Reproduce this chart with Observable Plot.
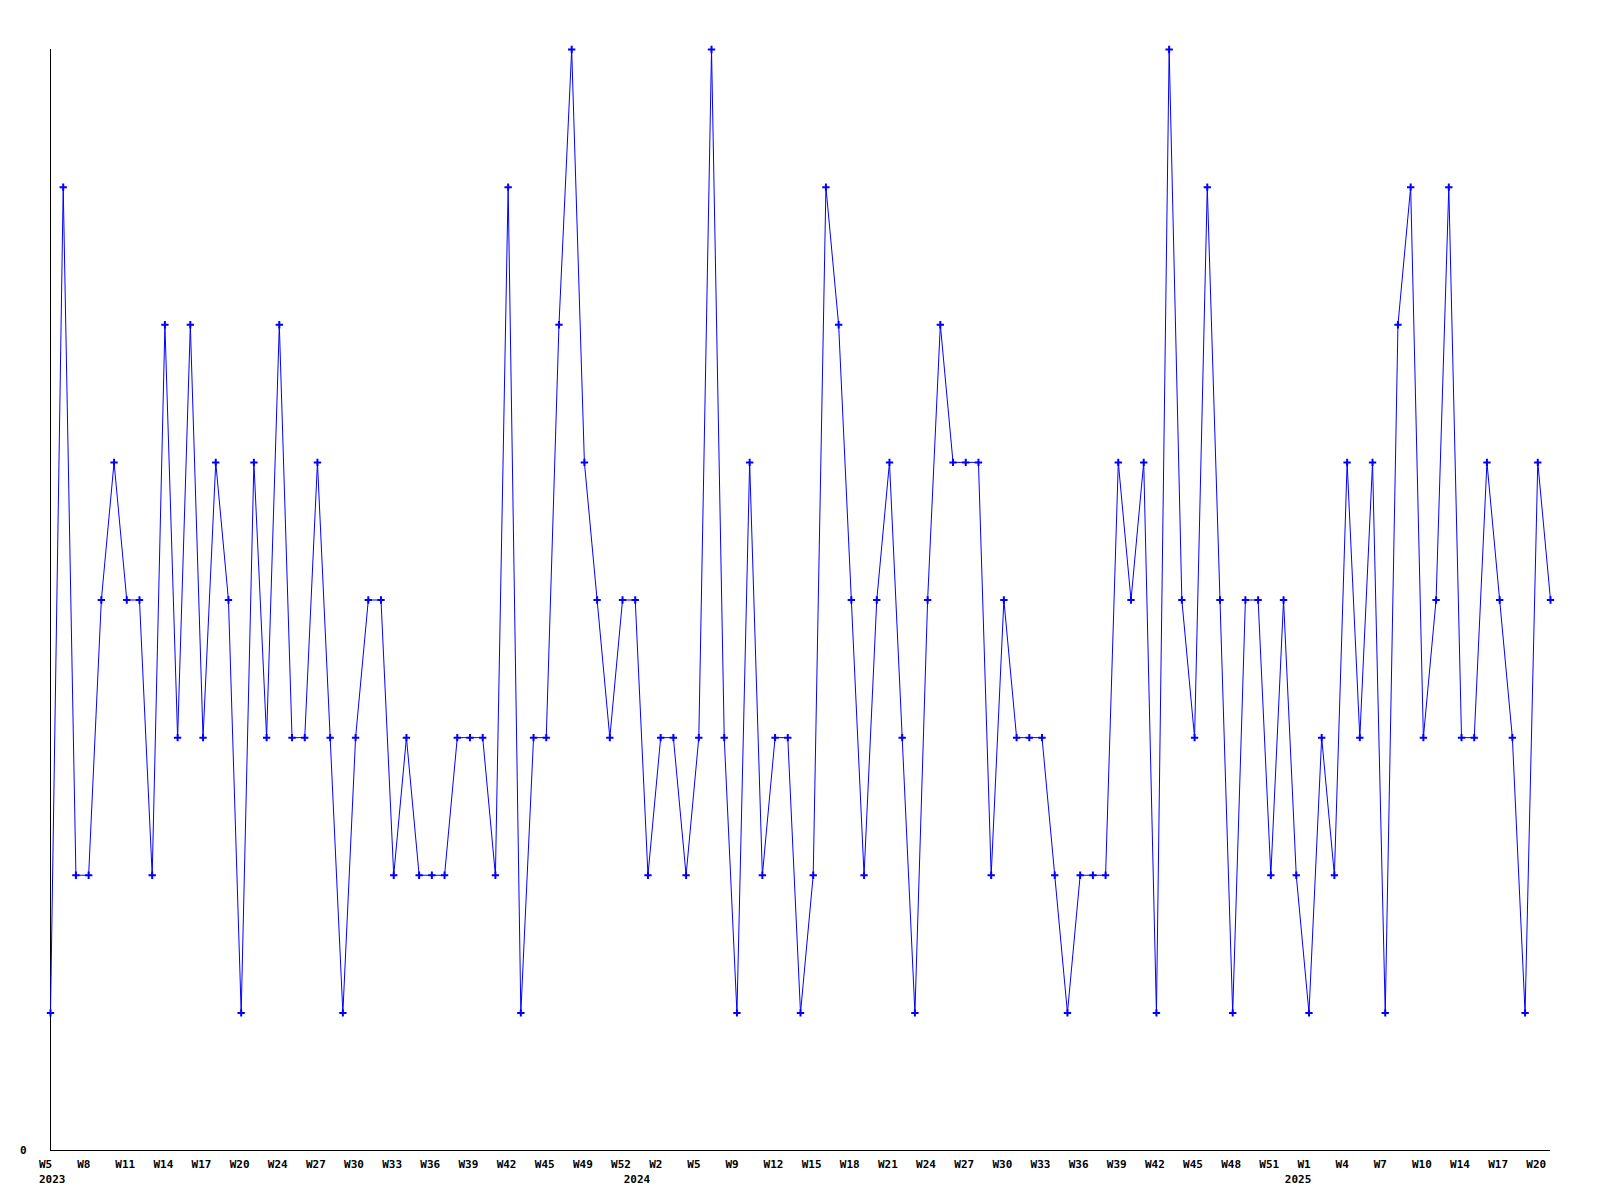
<!DOCTYPE html>
<html>
<head>
<meta charset="utf-8">
<script src="https://cdn.jsdelivr.net/npm/d3@7"></script>
<script src="https://cdn.jsdelivr.net/npm/@observablehq/plot@0.6"></script>
<style>
  html, body { margin: 0; padding: 0; background: #fff; }
</style>
</head>
<body>
<div id="chart"></div>
<script>
// Weekly values, 2023 W5 … 2025 W21 (one per week)
const values = [
  1,7,2,2,4,5,4,4,2,6,
  3,6,3,5,4,1,5,3,6,3,
  3,5,3,1,3,4,4,2,3,2,
  2,2,3,3,3,2,7,1,3,3,
  6,8,5,4,3,4,4,2,3,3,
  2,3,8,3,1,5,2,3,3,1,
  2,7,6,4,2,4,5,3,1,4,
  6,5,5,5,2,4,3,3,3,2,
  1,2,2,2,5,4,5,1,8,4,
  3,7,4,1,4,4,2,4,2,1,
  3,2,5,3,5,1,6,7,3,4,
  7,3,3,5,4,3,1,5,4
];

// Week tick labels, one every third point
const weekLabels = [
  "W5","W8","W11","W14","W17","W20","W24","W27","W30","W33",
  "W36","W39","W42","W45","W49","W52","W2","W5","W9","W12",
  "W15","W18","W21","W24","W27","W30","W33","W36","W39","W42",
  "W45","W48","W51","W1","W4","W7","W10","W14","W17","W20"
];
const weekTickIndex = weekLabels.map((_, i) => i * 3);

// Year labels and the point where each year starts
const yearLabels = ["2023", "2024", "2025"];
const yearIndex = [0, 46, 98];

// Y tick labels
const yTicks = [0];

const data = values.map((v, i) => ({ i, v }));
const years = yearLabels.map((t, k) => ({ i: yearIndex[k], t }));
const ticks = weekLabels.map((t, k) => ({ i: weekTickIndex[k], t }));

const chart = Plot.plot({
  width: 1600,
  height: 1200,
  marginLeft: 50,
  marginRight: 50,
  marginTop: 49,
  marginBottom: 50,
  style: {
    fontFamily: "'DejaVu Sans Mono', monospace",
    fontSize: "11px",
    fontWeight: "bold",
    color: "#000",
    background: "#fff"
  },
  x: { type: "linear", domain: [0, values.length - 1], axis: null },
  y: { domain: [0, 8], axis: null },
  marks: [
    Plot.ruleY([0], { stroke: "#000", strokeWidth: 1 }),
    Plot.ruleX([0], { y1: 0, y2: 8, stroke: "#000", strokeWidth: 1 }),
    Plot.axisY({
      ticks: yTicks,
      tickSize: 0,
      tickPadding: 24,
      tickFormat: d => String(d),
      label: null,
      fill: "#000"
    }),
    Plot.text(ticks, {
      x: "i", y: () => 0, text: "t",
      textAnchor: "start", lineAnchor: "top",
      dx: -11.5, dy: 10, fill: "#000"
    }),
    Plot.text(years, {
      x: "i", y: () => 0, text: "t",
      textAnchor: "start", lineAnchor: "top",
      dx: -11.5, dy: 25, fill: "#000"
    }),
    Plot.line(data, { x: "i", y: "v", stroke: "#0000ff", strokeWidth: 1 }),
    Plot.dot(data, { x: "i", y: "v", symbol: "plus", r: 2.5, stroke: "#0000ff", strokeWidth: 2 })
  ]
});

document.getElementById("chart").appendChild(chart);
</script>
</body>
</html>
